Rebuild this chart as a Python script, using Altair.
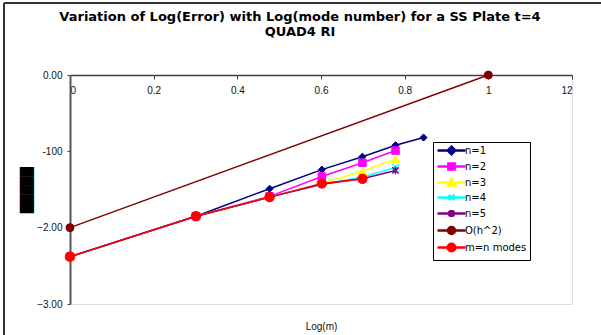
import altair as alt
import pandas as pd

# x values: Log(m) for m = 1..7
log_m = [0.0, 0.30103, 0.47712, 0.60206, 0.69897, 0.77815, 0.84510]

series_names = ["n=1", "n=2", "n=3", "n=4", "n=5", "O(h^2)", "m=n modes"]
n1 = [-2.38, -1.85, -1.49, -1.24, -1.07, -0.92, -0.82]
n2 = [-2.38, -1.85, -1.59, -1.33, -1.15, -0.99]
n3 = [-2.38, -1.85, -1.60, -1.42, -1.26, -1.10]
n4 = [-2.38, -1.85, -1.60, -1.43, -1.34, -1.21]
n5 = [-2.38, -1.85, -1.60, -1.43, -1.36, -1.25]
oh2_x = [0.0, 1.0]
oh2 = [-2.00, 0.00]
mn = [-2.38, -1.85, -1.60, -1.42, -1.36]

colors = ["#000080", "#FF00FF", "#FFFF00", "#00FFFF", "#800080", "#800000", "#FF0000"]

x_ticks = [0, 0.2, 0.4, 0.6, 0.8, 1.0, 1.2]
y_ticks = [0, -0.5, -1.0, -1.5, -2.0, -2.5, -3.0]

rows = []
for name, ys, xs in [("n=1", n1, log_m), ("n=2", n2, log_m), ("n=3", n3, log_m),
                     ("n=4", n4, log_m), ("n=5", n5, log_m), ("O(h^2)", oh2, oh2_x),
                     ("m=n modes", mn, log_m)]:
    for xv, yv in zip(xs, ys):
        rows.append({"series": name, "x": xv, "y": yv})
df = pd.DataFrame(rows)

# plot markers (shape, size, filled)
marker_specs = [
    ("diamond", 50, True),
    ("square", 56, True),
    ("triangle-up", 60, True),
    ("M-1,-1L1,1M-1,1L1,-1", 40, False),
    ("M-1,-1L1,1M-1,1L1,-1M0,-1.25L0,1.25", 40, False),
    ("circle", 64, True),
    ("circle", 90, True),
]

# legend symbols: line + marker (unit r = 4 px); line spans x -1..6 (28 px)
def circ(cx, r):
    return f"M{cx - r},0A{r},{r} 0 1,0 {cx + r},0A{r},{r} 0 1,0 {cx - r},0Z"

L = "M-1,0L6,0"
legend_shapes = [
    L + "M2.5,-0.95L3.45,0L2.5,0.95L1.55,0Z",
    L + "M1.72,-0.78L3.28,-0.78L3.28,0.78L1.72,0.78Z",
    L + "M2.5,-0.95L3.45,0.75L1.55,0.75Z",
    L + "M1.82,-0.68L3.18,0.68M1.82,0.68L3.18,-0.68",
    L + "M1.82,-0.68L3.18,0.68M1.82,0.68L3.18,-0.68M2.5,-0.9L2.5,0.9",
    L + circ(2.5, 0.88),
    L + circ(2.5, 0.95),
]

xscale = alt.Scale(domain=[0, 1.2], nice=False, zero=False)
yscale = alt.Scale(domain=[-3, 0], nice=False, zero=False)
cscale = alt.Scale(domain=series_names, range=colors)

x_enc = alt.X("x:Q", scale=xscale, axis=alt.Axis(
    orient="bottom", offset=-229, values=x_ticks,
    labelExpr="datum.value == 1.2 ? '12' : (datum.value == 0 ? '0' : (datum.value == 1 ? '1' : format(datum.value, '.1f')))",
    tickSize=4, tickColor="#404040", labelPadding=6, domainColor="#404040", domainWidth=1.5,
    labelFont="Liberation Sans", labelFontSize=10, labelColor="#111",
    grid=False, title="Log(m)", titleFont="Liberation Sans", titleFontSize=10,
    titleFontWeight="normal", titleColor="#111", titleY=251, titleBaseline="middle",
))
y_enc = alt.Y("y:Q", scale=yscale, axis=alt.Axis(
    values=y_ticks,
    labelExpr="datum.value == -1 ? '-100' : (datum.value == -1.5 ? '-150' : format(datum.value, '.2f'))",
    tickSize=3, tickColor="#404040", labelPadding=5, domainColor="#555555", domainWidth=2,
    labelFont="Liberation Sans", labelFontSize=10, labelColor="#111",
    grid=False, title="█████", titleFont="DejaVu Sans", titleFontSize=12,
    titleFontWeight="normal", titleColor="#000", titleX=-44, titleY=114.5,
    titleBaseline="middle", titleAngle=270,
))

base = alt.Chart(df)

series_layers = []
for i, (name, color, (shape, size, filled)) in enumerate(zip(series_names, colors, marker_specs)):
    sub = base.transform_filter(alt.datum.series == name)
    if i == 0:
        line = sub.mark_line(strokeWidth=1.5, color=color).encode(x=x_enc, y=y_enc)
    else:
        line = sub.mark_line(strokeWidth=1.5, color=color).encode(x="x:Q", y="y:Q")
    if filled:
        pts = sub.mark_point(shape=shape, size=size, filled=True, opacity=1,
                             fill=color, stroke=color, strokeWidth=1.0).encode(x="x:Q", y="y:Q")
    else:
        pts = sub.mark_point(shape=shape, size=size, filled=False, opacity=1,
                             stroke=color, strokeWidth=1.5).encode(x="x:Q", y="y:Q")
    series_layers += [line, pts]

legend_layer = base.mark_point(opacity=0, size=64).encode(
    x="x:Q", y="y:Q",
    fill=alt.Fill("series:N", scale=cscale, legend=alt.Legend(title=None)),
    stroke=alt.Stroke("series:N", scale=cscale, legend=alt.Legend(title=None)),
    shape=alt.Shape("series:N", scale=alt.Scale(domain=series_names, range=legend_shapes),
                    legend=alt.Legend(
                        title=None, orient="none", legendX=363, legendY=67,
                        symbolSize=64, symbolStrokeWidth=2.5, symbolOpacity=1,
                        labelFont="DejaVu Sans", labelFontSize=10, labelColor="#000",
                        labelOffset=18, rowPadding=-2, padding=3,
                        strokeColor="#000", fillColor="#fff",
                    )),
)

left_border = alt.Chart(df).mark_rule(color="#333", strokeWidth=1.5).encode(
    x=alt.value(-66), y=alt.value(-72), y2=alt.value(300))
top_border = alt.Chart(df).mark_rule(color="#333", strokeWidth=1.5).encode(
    x=alt.value(-66), x2=alt.value(560), y=alt.value(-72))

chart = alt.layer(left_border, top_border, *series_layers, legend_layer).properties(
    width=502, height=229,
    autosize=alt.AutoSizeParams(type="none"),
    padding={"left": 70, "top": 75, "right": 29, "bottom": 31},
    title=alt.TitleParams(
        text=["Variation of Log(Error) with Log(mode number) for a SS Plate t=4", "QUAD4 RI"],
        font="DejaVu Sans", fontSize=13, fontWeight="bold", color="#000",
        anchor="middle", dx=-21, offset=-47, baseline="alphabetic", lineHeight=15,
    ),
).configure_view(stroke="#a0a0a0", strokeWidth=1.5).configure(background="white")

chart.save("out.html", embed_options={"renderer": "svg", "actions": False})
